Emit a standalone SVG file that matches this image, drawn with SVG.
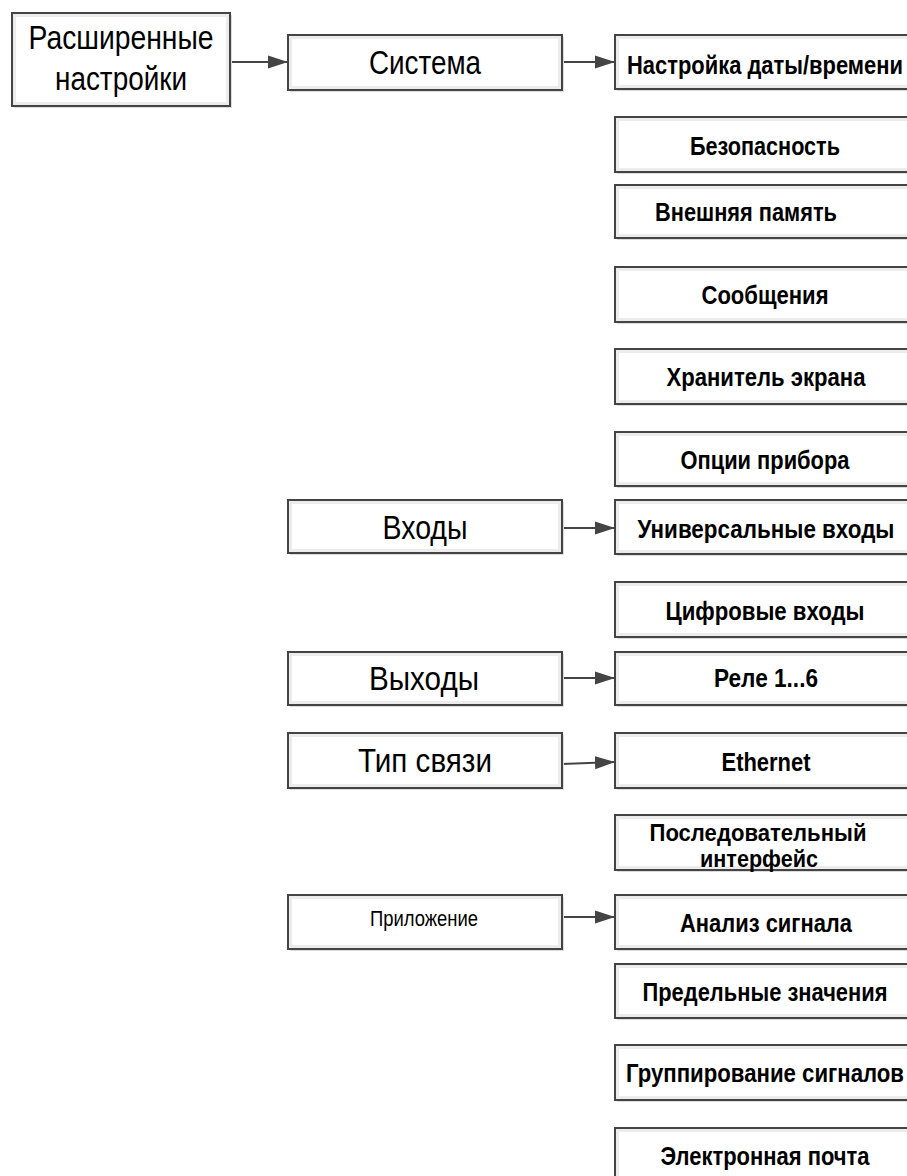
<svg xmlns="http://www.w3.org/2000/svg" width="907" height="1176" viewBox="0 0 907 1176">
<style>
.sh{fill:#dcdcdc}
.bx{fill:#ececec;stroke:#444;stroke-width:2}
.in{fill:#fff}
.t{font-family:"Liberation Sans",Arial,sans-serif;font-size:34px;fill:#000;text-anchor:middle}
.b{font-family:"Liberation Sans",Arial,sans-serif;font-size:26px;font-weight:bold;fill:#000;text-anchor:middle}
.b2{font-family:"Liberation Sans",Arial,sans-serif;font-size:23px;font-weight:bold;fill:#000;text-anchor:middle}
.s{font-family:"Liberation Sans",Arial,sans-serif;font-size:22px;fill:#000;text-anchor:middle}
.c{stroke:#444;stroke-width:2;fill:none;marker-end:url(#ah)}
</style>
<defs>
<marker id="ah" markerUnits="userSpaceOnUse" markerWidth="22" markerHeight="16" refX="20" refY="8" orient="auto">
<path d="M0,1.5 L20,8 L0,14.5 Z" fill="#444"/>
</marker>
</defs>
<rect width="907" height="1176" fill="#fff"/>
<g id="connectors">
<line class="c" x1="230" y1="62" x2="288" y2="62"/>
<line class="c" x1="562" y1="62" x2="615" y2="62"/>
<line class="c" x1="562" y1="528" x2="615" y2="528"/>
<line class="c" x1="562" y1="678" x2="615" y2="678"/>
<line class="c" x1="562" y1="764" x2="615" y2="762"/>
<line class="c" x1="562" y1="917" x2="615" y2="917"/>
</g>
<g id="n-root"><rect class="sh" x="14" y="15" width="218" height="93"/><rect class="bx" x="12" y="13" width="218" height="93"/><rect class="in" x="16" y="17" width="210" height="85"/><text class="t" x="121" y="49" textLength="185" lengthAdjust="spacingAndGlyphs">Расширенные</text><text class="t" x="121" y="90" textLength="132" lengthAdjust="spacingAndGlyphs">настройки</text></g>
<g id="n-system"><rect class="sh" x="290" y="37" width="274" height="55"/><rect class="bx" x="288" y="35" width="274" height="55"/><rect class="in" x="292" y="39" width="266" height="47"/><text class="t" x="425" y="74" textLength="112" lengthAdjust="spacingAndGlyphs">Система</text></g>
<g id="n-inputs"><rect class="sh" x="290" y="502" width="274" height="53"/><rect class="bx" x="288" y="500" width="274" height="53"/><rect class="in" x="292" y="504" width="266" height="45"/><text class="t" x="425" y="539" textLength="85" lengthAdjust="spacingAndGlyphs">Входы</text></g>
<g id="n-outputs"><rect class="sh" x="290" y="654" width="274" height="53"/><rect class="bx" x="288" y="652" width="274" height="53"/><rect class="in" x="292" y="656" width="266" height="45"/><text class="t" x="424" y="690" textLength="110" lengthAdjust="spacingAndGlyphs">Выходы</text></g>
<g id="n-comm"><rect class="sh" x="290" y="735" width="274" height="55"/><rect class="bx" x="288" y="733" width="274" height="55"/><rect class="in" x="292" y="737" width="266" height="47"/><text class="t" x="425" y="772" textLength="134" lengthAdjust="spacingAndGlyphs">Тип связи</text></g>
<g id="n-app"><rect class="sh" x="290" y="897" width="274" height="54"/><rect class="bx" x="288" y="895" width="274" height="54"/><rect class="in" x="292" y="899" width="266" height="46"/><text class="s" x="424" y="926" textLength="108" lengthAdjust="spacingAndGlyphs">Приложение</text></g>
<g id="n-datetime"><rect class="sh" x="617" y="37" width="300" height="54"/><rect class="bx" x="615" y="35" width="300" height="54"/><rect class="in" x="619" y="39" width="292" height="46"/><text class="b" x="765" y="74" textLength="276" lengthAdjust="spacingAndGlyphs">Настройка даты/времени</text></g>
<g id="n-security"><rect class="sh" x="617" y="119" width="300" height="55"/><rect class="bx" x="615" y="117" width="300" height="55"/><rect class="in" x="619" y="121" width="292" height="47"/><text class="b" x="765" y="155" textLength="150" lengthAdjust="spacingAndGlyphs">Безопасность</text></g>
<g id="n-extmem"><rect class="sh" x="617" y="187" width="300" height="53"/><rect class="bx" x="615" y="185" width="300" height="53"/><rect class="in" x="619" y="189" width="292" height="45"/><text class="b" x="746" y="221" textLength="182" lengthAdjust="spacingAndGlyphs">Внешняя память</text></g>
<g id="n-messages"><rect class="sh" x="617" y="269" width="300" height="55"/><rect class="bx" x="615" y="267" width="300" height="55"/><rect class="in" x="619" y="271" width="292" height="47"/><text class="b" x="765" y="304" textLength="127" lengthAdjust="spacingAndGlyphs">Сообщения</text></g>
<g id="n-screensaver"><rect class="sh" x="617" y="351" width="300" height="55"/><rect class="bx" x="615" y="349" width="300" height="55"/><rect class="in" x="619" y="353" width="292" height="47"/><text class="b" x="766" y="386" textLength="199" lengthAdjust="spacingAndGlyphs">Хранитель экрана</text></g>
<g id="n-options"><rect class="sh" x="617" y="434" width="300" height="54"/><rect class="bx" x="615" y="432" width="300" height="54"/><rect class="in" x="619" y="436" width="292" height="46"/><text class="b" x="765" y="469" textLength="169" lengthAdjust="spacingAndGlyphs">Опции прибора</text></g>
<g id="n-univ"><rect class="sh" x="617" y="502" width="300" height="54"/><rect class="bx" x="615" y="500" width="300" height="54"/><rect class="in" x="619" y="504" width="292" height="46"/><text class="b" x="766" y="538" textLength="257" lengthAdjust="spacingAndGlyphs">Универсальные входы</text></g>
<g id="n-digital"><rect class="sh" x="617" y="584" width="300" height="55"/><rect class="bx" x="615" y="582" width="300" height="55"/><rect class="in" x="619" y="586" width="292" height="47"/><text class="b" x="765" y="620" textLength="199" lengthAdjust="spacingAndGlyphs">Цифровые входы</text></g>
<g id="n-relay"><rect class="sh" x="617" y="654" width="300" height="53"/><rect class="bx" x="615" y="652" width="300" height="53"/><rect class="in" x="619" y="656" width="292" height="45"/><text class="b" x="766" y="687" textLength="104" lengthAdjust="spacingAndGlyphs">Реле 1...6</text></g>
<g id="n-ethernet"><rect class="sh" x="617" y="735" width="300" height="55"/><rect class="bx" x="615" y="733" width="300" height="55"/><rect class="in" x="619" y="737" width="292" height="47"/><text class="b" x="766" y="771" textLength="89" lengthAdjust="spacingAndGlyphs">Ethernet</text></g>
<g id="n-serial"><rect class="sh" x="617" y="817" width="300" height="55"/><rect class="bx" x="615" y="815" width="300" height="55"/><rect class="in" x="619" y="819" width="292" height="47"/><text class="b2" x="758" y="841" textLength="217" lengthAdjust="spacingAndGlyphs">Последовательный</text><text class="b2" x="759" y="867" textLength="118" lengthAdjust="spacingAndGlyphs">интерфейс</text></g>
<g id="n-analysis"><rect class="sh" x="617" y="897" width="300" height="54"/><rect class="bx" x="615" y="895" width="300" height="54"/><rect class="in" x="619" y="899" width="292" height="46"/><text class="b" x="766" y="932" textLength="172" lengthAdjust="spacingAndGlyphs">Анализ сигнала</text></g>
<g id="n-limits"><rect class="sh" x="617" y="966" width="300" height="54"/><rect class="bx" x="615" y="964" width="300" height="54"/><rect class="in" x="619" y="968" width="292" height="46"/><text class="b" x="765" y="1001" textLength="245" lengthAdjust="spacingAndGlyphs">Предельные значения</text></g>
<g id="n-grouping"><rect class="sh" x="617" y="1047" width="300" height="55"/><rect class="bx" x="615" y="1045" width="300" height="55"/><rect class="in" x="619" y="1049" width="292" height="47"/><text class="b" x="765" y="1082" textLength="278" lengthAdjust="spacingAndGlyphs">Группирование сигналов</text></g>
<g id="n-email"><rect class="sh" x="617" y="1130" width="300" height="54"/><rect class="bx" x="615" y="1128" width="300" height="54"/><rect class="in" x="619" y="1132" width="292" height="46"/><text class="b" x="765" y="1165" textLength="209" lengthAdjust="spacingAndGlyphs">Электронная почта</text></g>
</svg>
